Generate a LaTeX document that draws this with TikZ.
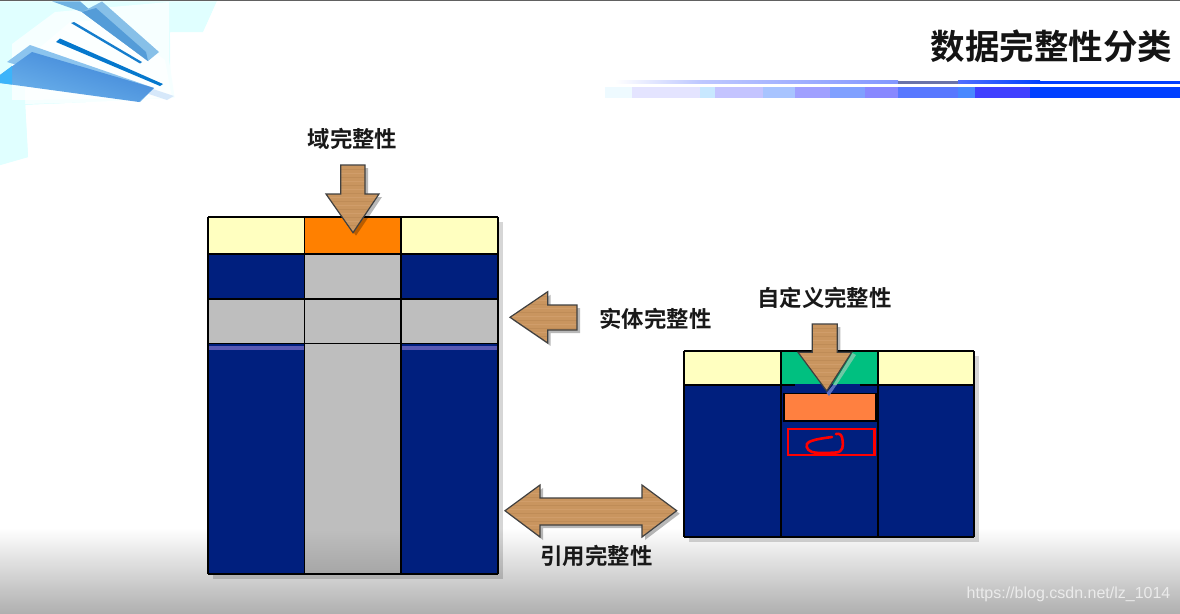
\documentclass[tikz,border=0pt]{standalone}
\usepackage{fontspec}
\setmainfont{Liberation Sans}
\newfontfamily\cjk{Noto Sans CJK SC}[BoldFont={Noto Sans CJK SC Bold}]
\usetikzlibrary{shadings}
\definecolor{navy}{HTML}{001F7E}
\definecolor{cream}{HTML}{FFFFC0}
\definecolor{cellgray}{HTML}{BEBEBE}
\definecolor{amber}{HTML}{FF8000}
\definecolor{coral}{HTML}{FF8040}
\definecolor{teal}{HTML}{00C080}
\definecolor{wood}{HTML}{C9955F}
\definecolor{wooddark}{HTML}{B5824F}
\definecolor{woodlight}{HTML}{D9A878}
\definecolor{edge}{HTML}{000000}
\definecolor{iceblue}{HTML}{E0FFFF}
\tikzset{
  cell/.style={draw=edge,line width=1.7pt},
  tshadow/.style={fill=black,fill opacity=.16,draw=none},
  lbl/.style={font=\cjk\bfseries\fontsize{22.4}{24}\selectfont,text=black!90,inner sep=0pt,anchor=center},
  arrowedge/.style={draw=black!75,line width=1.2pt,line join=miter},
  ashadow/.style={fill=black,fill opacity=.28,draw=none},
}
% #1 outline path  #2 y from  #3 y to  #4 x from  #5 x to
\newcommand{\woodarrow}[5]{%
  \fill[ashadow,shift={(3pt,-3pt)}] #1 -- cycle;
  \fill[wood] #1 -- cycle;
  \begin{scope}
    \clip #1 -- cycle;
    \pgfmathsetmacro{\ysec}{#2+4}
    \foreach \yy [count=\ii] in {#2,\ysec,...,#3} {
      \pgfmathparse{mod(\ii,2)==0 ? "wooddark" : "woodlight"}
      \edef\tone{\pgfmathresult}
      \draw[\tone,opacity=.45,line width=1pt] (#4,\yy) -- (#5,\yy);
    }
  \end{scope}
  \draw[arrowedge] #1 -- cycle;
}
\begin{document}
\begin{tikzpicture}[x=1pt,y=-1pt]
\useasboundingbox (0,0) rectangle (1180,613);
\fill[white] (0,0) rectangle (1180,613);
% bottom gradient
\shade[top color=white,bottom color=black!31,shading angle=0] (0,528) rectangle (1180,613);
\fill[black!62] (0,0) rectangle (1180,1.3);

% top-left ornament
\fill[iceblue] (0,1.3) -- (217,1.3) -- (203,32) -- (170,32) -- (170,100) -- (25,105) -- (28,157) -- (0,165) -- cycle;
\fill[white!70!iceblue] (12,44) -- (55,12) -- (169,2) -- (169,60) -- (175,100) -- (25,104) -- (12,100) -- cycle;
\fill[white!90!iceblue] (25,60) -- (70,22) -- (110,20) -- (165,60) -- (172,98) -- (25,100) -- cycle;
\fill[white] (28,105) -- (175,98) -- (170,33) -- (203,33) -- (217,1.3) -- (240,1.3) -- (240,170) -- (28,170) -- cycle;
\fill[iceblue] (0,100) -- (25,100) -- (28,157) -- (0,165) -- cycle;
\fill[color={rgb,255:red,110;green,178;blue,226}] (52,1.3) -- (80,1.3) -- (148,61) -- (82,12) -- cycle;
\fill[color={rgb,255:red,135;green,192;blue,232}] (82,12) -- (102,1.5) -- (159,52) -- (148,61) -- cycle;
\fill[color={rgb,255:red,84;green,156;blue,216}] (82,12) -- (96,8) -- (146,52) -- (148,61) -- cycle;
\fill[color={rgb,255:red,20;green,125;blue,205}] (71,23) -- (74,22) -- (142,62) -- (140,63.5) -- cycle;
\fill[color={rgb,255:red,5;green,120;blue,205}] (56,42) -- (60,38.5) -- (163,84) -- (160,86) -- cycle;
\fill[color={rgb,255:red,214;green,232;blue,250}] (150,88) -- (174,96) -- (167,100) -- (143,92) -- cycle;
\fill[color={rgb,255:red,140;green,196;blue,238}] (7,62) -- (30,45) -- (154,88) -- (140,102) -- cycle;
\shade[bottom color={rgb,255:red,110;green,180;blue,236},top color={rgb,255:red,60;green,130;blue,214},shading angle=-17]
  (0,83) -- (0,75) -- (32,52) -- (154,88) -- (139,102) -- cycle;
\fill[color={rgb,255:red,60;green,180;blue,250}] (0,83) -- (0,75) -- (12,66) -- (12,84.5) -- cycle;

% header bars
\shade[left color=white,right color={rgb,255:red,190;green,200;blue,255}] (615,80.5) rectangle (700,83.5);
\shade[left color={rgb,255:red,190;green,200;blue,255},right color={rgb,255:red,130;green,150;blue,255}] (700,80.5) rectangle (898,83.5);
\fill[color={rgb,255:red,105;green,115;blue,170}] (898,80.5) rectangle (958,83.5);
\shade[left color={rgb,255:red,80;green,110;blue,255},right color={rgb,255:red,0;green,64;blue,255}] (958,80.5) rectangle (1040,83.5);
\fill[color={rgb,255:red,0;green,64;blue,255}] (1040,80.5) rectangle (1180,83.5);
\foreach \xa/\xb/\rr/\gg/\bb in {605/632/238/250/255,632/700/228/228/255,700/715/200/232/255,715/763/196/196/255,763/795/168/196/255,795/830/160/160/255,830/865/128/160/255,865/898/136/136/255,898/958/88/120/255,958/975/72/136/255,975/1030/64/64/255,1030/1180/0/64/255}
  \fill[color={rgb,255:red,\rr;green,\gg;blue,\bb}] (\xa,87) rectangle (\xb,98);

% title
\node[lbl,font=\cjk\bfseries\fontsize{34.5}{37}\selectfont,text=black!92] (title) at (1051.5,46.5) {数据完整性分类};

% left table
\fill[tshadow] (213,222) rectangle (503,579);
\fill[cream] (208,217) rectangle (498,254);
\fill[amber] (304.5,217) rectangle (401,254);
\fill[navy] (208,254) rectangle (498,574);
\fill[cellgray] (304.5,254) rectangle (401,530);
\shade[top color=cellgray,bottom color=black!35] (304.5,530) rectangle (401,574);
\fill[cellgray] (208,299) rectangle (498,343.5);
\foreach \xa/\xb in {209/304,402/497}
  \fill[color={rgb,255:red,90;green,90;blue,180}] (\xa,345.5) rectangle (\xb,349.5);
\foreach \ya in {217,254,299,343.5,574} \draw[cell] (208,\ya) -- (498,\ya);
\foreach \xa in {208,304.5,401,498} \draw[cell] (\xa,217) -- (\xa,574);

% right table
\fill[tshadow] (689,356) rectangle (979,542);
\fill[cream] (684,351) rectangle (974,385);
\fill[teal] (781,351) rectangle (878,385);
\fill[navy] (684,385) rectangle (974,537);
\foreach \ya in {351,385,537} \draw[cell] (684,\ya) -- (974,\ya);
\foreach \xa in {684,781,878,974} \draw[cell] (\xa,351) -- (\xa,537);
\fill[teal] (782,351.9) rectangle (877,384);
\fill[navy] (795,384) rectangle (860,386);
\fill[coral,draw=black,line width=1.2pt] (784,393.3) rectangle (876,421);
\draw[color=red,line width=2.8pt] (788,429) rectangle (874.5,455);
\draw[color=red,line width=2.6pt,line cap=round] (836,434) .. controls (840,433) and (842,435) .. (842.5,440) .. controls (843.5,446) and (843,452) .. (836,452.5) .. controls (828,453) and (818,453.5) .. (812,452) .. controls (806,450) and (805,444) .. (809,442) .. controls (815,439) and (825,438) .. (832,437);

% wood arrows
\woodarrow{(340.7,165) -- (365,165) -- (365,194) -- (379,194) -- (353,232.7) -- (326,194) -- (340.7,194)}{165}{233}{326}{379}
\woodarrow{(510,317.3) -- (547.7,291.7) -- (547.7,305) -- (577,305) -- (577,330) -- (547.7,330) -- (547.7,343)}{292}{343}{510}{577}
\woodarrow{(505,510.7) -- (540,485) -- (540,498) -- (642,498) -- (642,485) -- (676.7,510.7) -- (642,537) -- (642,525) -- (540,525) -- (540,537)}{485}{537}{505}{677}
\woodarrow{(812.3,324) -- (837.3,324) -- (837.3,352.3) -- (851.7,352.3) -- (826.7,391) -- (798,352.3) -- (812.3,352.3)}{324}{391}{798}{852}
\fill[color={rgb,255:red,110;green,200;blue,165}] (852.5,353) -- (856,355) -- (836.5,385) -- (833,385) -- cycle;
\fill[color={rgb,255:red,90;green,110;blue,190}] (833,385) -- (836.5,385) -- (829,396) -- (826.5,393) -- cycle;

% labels
\node[lbl] (domain) at (352.5,139) {域完整性};
\node[lbl] (entity) at (655.5,318.5) {实体完整性};
\node[lbl] (custom) at (824.5,298) {自定义完整性};
\node[lbl] (refer) at (596.5,556) {引用完整性};
\node[inner sep=0pt,text=white!92!black,font=\fontsize{16}{18}\selectfont] (mark) at (1068.5,594) {https://blog.csdn.net/lz\_1014};
\end{tikzpicture}
\end{document}
